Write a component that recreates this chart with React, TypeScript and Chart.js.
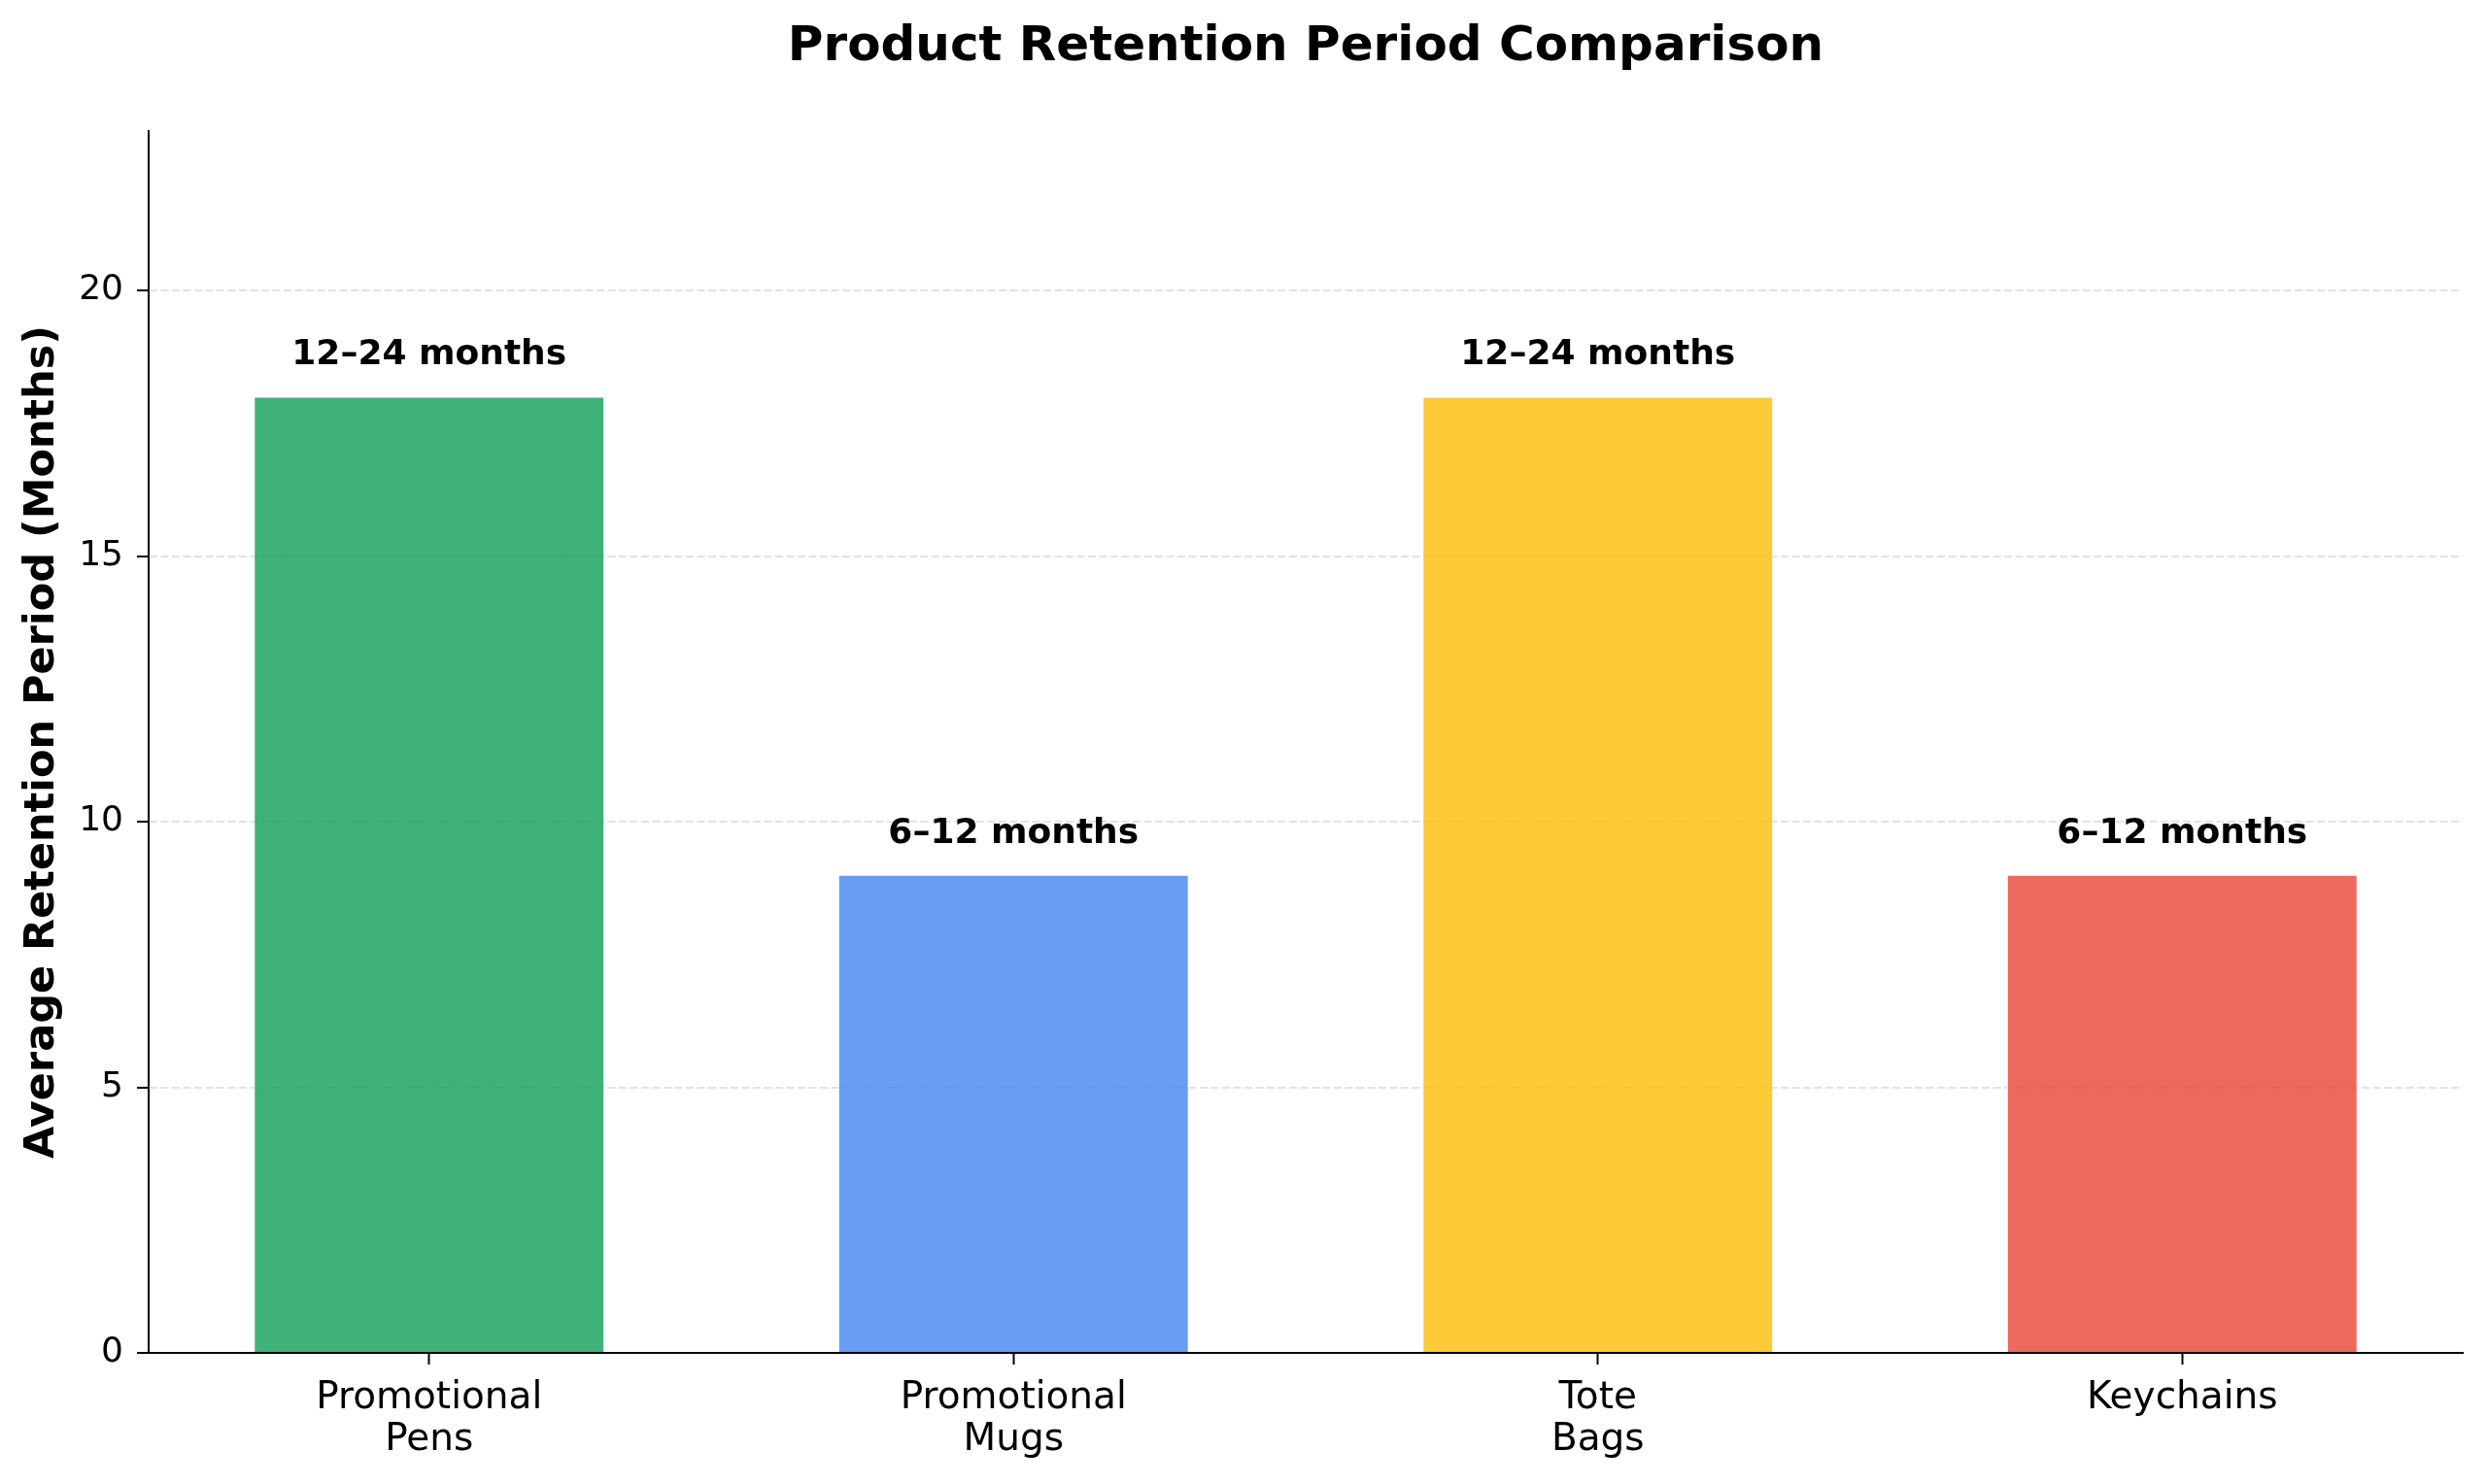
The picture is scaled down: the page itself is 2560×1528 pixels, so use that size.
import { useEffect, useRef } from "react"
import { Chart, registerables } from "chart.js"

Chart.register(...registerables)

// Chart data
const productLabels: string[][] = [
    ["Promotional", "Pens"],
    ["Promotional", "Mugs"],
    ["Tote", "Bags"],
    ["Keychains"],
]
const retentionMonths = [18, 9, 18, 9]
const rangeLabels = ["12–24 months", "6–12 months", "12–24 months", "6–12 months"]
const yTicks = [0, 5, 10, 15, 20]

const barColors = [
    "rgba(15, 157, 88, 0.8)", // green
    "rgba(66, 133, 244, 0.8)", // blue
    "rgba(251, 188, 5, 0.8)", // yellow
    "rgba(234, 67, 53, 0.8)", // red
]

const FONT = "'DejaVu Sans', sans-serif"

// Text above each bar, half a month above its top
const rangeLabelPlugin = {
    id: "rangeLabels",
    afterDatasetsDraw(chart: Chart) {
        const { ctx } = chart
        const yScale = chart.scales.y
        const meta = chart.getDatasetMeta(0)
        ctx.save()
        ctx.font = `bold 36px ${FONT}`
        ctx.fillStyle = "#000"
        ctx.textAlign = "center"
        ctx.textBaseline = "bottom"
        meta.data.forEach((bar: any, i: number) => {
            const y = yScale.getPixelForValue(retentionMonths[i] + 0.5)
            ctx.fillText(rangeLabels[i], bar.x, y + 3)
        })
        ctx.restore()
    },
}

export default function App() {
    const chartRef = useRef<HTMLCanvasElement>(null)
    const chartInstance = useRef<Chart | null>(null)

    useEffect(() => {
        if (!chartRef.current) return
        if (chartInstance.current) chartInstance.current.destroy()

        const ctx = chartRef.current.getContext("2d")
        if (!ctx) return

        chartInstance.current = new Chart(ctx, {
            type: "bar",
            data: {
                datasets: [
                    {
                        label: "Average Retention",
                        data: retentionMonths.map((v, i) => ({ x: i, y: v })),
                        backgroundColor: barColors,
                        borderColor: "rgba(255, 255, 255, 0.9)",
                        borderWidth: 1,
                        barPercentage: 0.6,
                        categoryPercentage: 1,
                    },
                ],
            },
            options: {
                animation: false,
                responsive: true,
                maintainAspectRatio: false,
                layout: { padding: { left: 0, right: 25, top: 0, bottom: 0 } },
                plugins: {
                    legend: { display: false },
                    tooltip: { enabled: false },
                    title: {
                        display: true,
                        text: "Product Retention Period Comparison",
                        fullSize: false,
                        color: "#000",
                        font: { family: FONT, size: 50, weight: "bold", lineHeight: 1.2 },
                        padding: { top: 19, bottom: 56 },
                    },
                },
                scales: {
                    x: {
                        type: "linear",
                        min: -0.48,
                        max: 3.48,
                        offset: false,
                        afterFit: (scale: any) => {
                            scale.height = 135
                        },
                        afterBuildTicks: (scale: any) => {
                            scale.ticks = productLabels.map((_, i) => ({ value: i }))
                        },
                        ticks: {
                            color: "#000",
                            padding: 14,
                            maxRotation: 0,
                            autoSkip: false,
                            font: { family: FONT, size: 39, lineHeight: 1.095 },
                            callback: (value: any) => productLabels[value] ?? "",
                        },
                        grid: {
                            display: true,
                            offset: false,
                            drawOnChartArea: false,
                            drawTicks: true,
                            tickLength: 12,
                            tickColor: "#000",
                            tickWidth: 2,
                        },
                        border: { display: true, color: "#000", width: 2 },
                    },
                    y: {
                        min: 0,
                        max: 23,
                        afterFit: (scale: any) => {
                            scale.width = 153
                        },
                        afterBuildTicks: (scale: any) => {
                            scale.ticks = yTicks.map((v) => ({ value: v }))
                        },
                        ticks: {
                            color: "#000",
                            padding: 14,
                            font: { family: FONT, size: 36 },
                        },
                        grid: {
                            color: (c: any) => (c.tick && c.tick.value === 0 ? "rgba(0,0,0,0)" : "#e2e2e2"),
                            lineWidth: 2,
                            drawTicks: true,
                            tickLength: 12,
                            tickColor: "#000",
                            tickWidth: 2,
                        },
                        border: { display: true, color: "#000", width: 2, dash: [8, 3.5] },
                        title: {
                            display: true,
                            text: "Average Retention Period (Months)",
                            color: "#000",
                            font: { family: FONT, size: 43, weight: "bold", lineHeight: 1.2 },
                            padding: { top: 18, bottom: 0 },
                        },
                    },
                },
            },
            plugins: [rangeLabelPlugin],
        })

        return () => {
            if (chartInstance.current) {
                chartInstance.current.destroy()
                chartInstance.current = null
            }
        }
    }, [])

    return (
        <div style={{ position: "fixed", left: 0, top: 0, width: 2560, height: 1528, background: "#fff" }}>
            <canvas ref={chartRef}></canvas>
        </div>
    )
}
